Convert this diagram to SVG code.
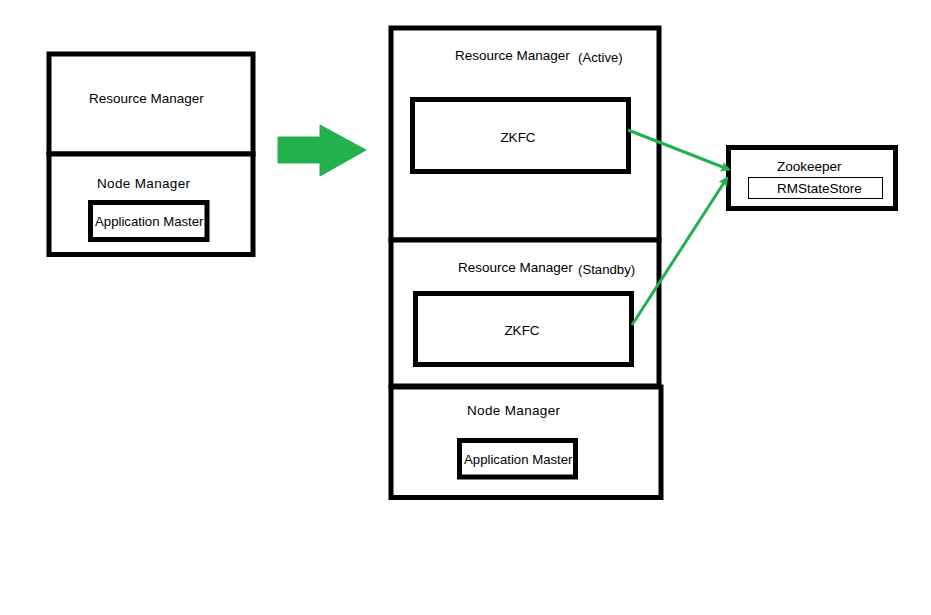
<svg xmlns="http://www.w3.org/2000/svg" width="931" height="615" viewBox="0 0 931 615">
<style>
.box{fill:#fff;stroke:#000;stroke-width:5}
.thin{fill:#fff;stroke:#000;stroke-width:1}
text{font-family:"Liberation Sans",Arial,sans-serif;font-size:13.5px;fill:#000}
.sm{font-size:13.2px}
.conn{stroke:#22b14c;stroke-width:3;fill:none}
</style>
<defs>
<marker id="ah" markerWidth="10" markerHeight="10" refX="8" refY="5" orient="auto" markerUnits="userSpaceOnUse" viewBox="0 0 10 10">
<path d="M0,0 L10,5 L0,10 L2,5 Z" fill="#22b14c"/>
</marker>
</defs>
<rect width="931" height="615" fill="#fff"/>
<g id="left-rm">
<rect class="box" x="49" y="54" width="204" height="100"/>
<text x="89" y="103">Resource Manager</text>
</g>
<g id="left-nm">
<rect class="box" x="49" y="154" width="204" height="100.5"/>
<text x="97" y="188" textLength="93">Node Manager</text>
</g>
<g id="left-am">
<rect class="box" x="90.5" y="202.5" width="116.5" height="37"/>
<text class="sm" x="95" y="226">Application Master</text>
</g>
<g id="transition-arrow">
<path d="M278,137 L320,137 L320,125 L366,150 L320,176 L320,163 L278,163 Z" fill="#22b14c" stroke="#22b14c" stroke-width="1" stroke-linejoin="round"/>
</g>
<g id="rm-active">
<rect class="box" x="391" y="28" width="268" height="212"/>
<text x="455" y="60">Resource Manager</text>
<text class="sm" x="578" y="62">(Active)</text>
</g>
<g id="zkfc-active">
<rect class="box" x="412.5" y="99.5" width="216" height="72"/>
<text x="518" y="142" text-anchor="middle">ZKFC</text>
</g>
<g id="rm-standby">
<rect class="box" x="391" y="240" width="268" height="146"/>
<text x="458" y="272">Resource Manager</text>
<text class="sm" x="578" y="274">(Standby)</text>
</g>
<g id="zkfc-standby">
<rect class="box" x="415.5" y="293.5" width="216" height="71"/>
<text x="522" y="335" text-anchor="middle">ZKFC</text>
</g>
<g id="nm">
<rect class="box" x="391" y="387" width="270" height="110.5"/>
<text x="467" y="415" textLength="93">Node Manager</text>
</g>
<g id="am">
<rect class="box" x="459.5" y="440.5" width="116" height="36.5"/>
<text class="sm" x="464" y="464">Application Master</text>
</g>
<g id="zookeeper">
<rect class="box" x="728.5" y="147.5" width="167" height="61"/>
<text x="777" y="171">Zookeeper</text>
</g>
<g id="rmstatestore">
<rect class="thin" x="748.5" y="177.5" width="134" height="21"/>
<text x="777" y="193">RMStateStore</text>
</g>
<g id="connectors">
<line class="conn" x1="628" y1="130" x2="729" y2="169.5" marker-end="url(#ah)"/>
<line class="conn" x1="632" y1="325" x2="727" y2="178" marker-end="url(#ah)"/>
</g>
</svg>
